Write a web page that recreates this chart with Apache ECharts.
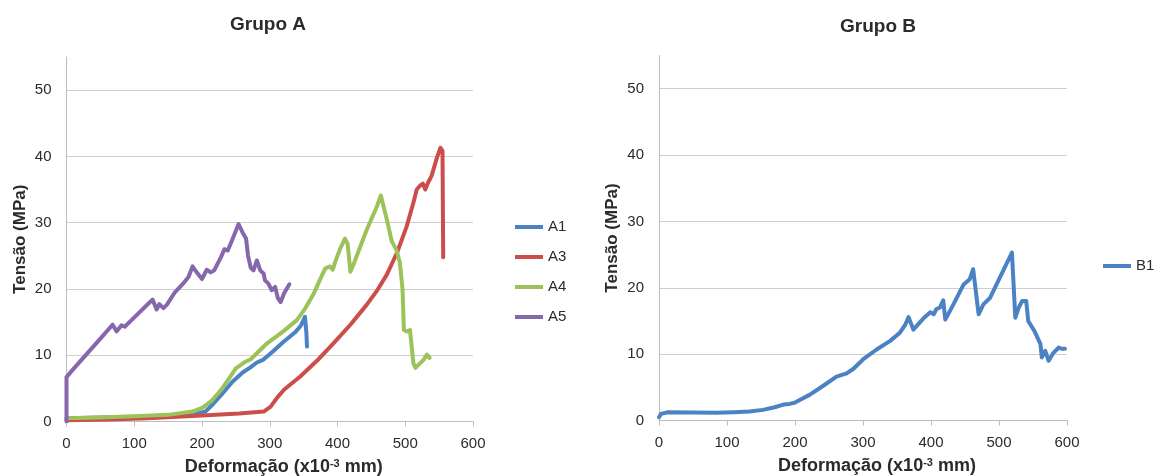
<!DOCTYPE html>
<html>
<head>
<meta charset="utf-8">
<script src="https://cdn.jsdelivr.net/npm/echarts@6/dist/echarts.min.js"></script>
<style>
  html, body { margin: 0; padding: 0; background: #fff; }
  #chart { width: 1157px; height: 476px; }
</style>
</head>
<body>
<div id="chart"></div>
<script>
// Stress–strain curves, [deformation (x10^-3 mm), stress (MPa)]
const serieA1 = [[0,0.5],[50,0.6],[100,0.7],[150,0.9],[190,1.1],[205,1.5],[216,2.6],[230,4.2],[245,6.0],[260,7.4],[272,8.2],[281,8.9],[290,9.3],[296,9.8],[305,10.6],[320,12.0],[338,13.5],[346,14.5],[352,15.8],[354,13.5],[355,11.3]];
const serieA3 = [[0,0.2],[60,0.3],[120,0.5],[200,0.9],[255,1.2],[291,1.5],[301,2.2],[311,3.6],[321,4.8],[345,6.8],[370,9.2],[394,11.8],[419,14.6],[443,17.6],[458,19.7],[473,22.2],[488,25.5],[502,29.4],[512,33.0],[517,35.0],[522,35.6],[526,35.9],[529.5,35.0],[534,36.1],[539,37.1],[547,39.9],[552,41.3],[555,40.8],[556,24.8]];
const serieA4 = [[0,0.5],[50,0.6],[100,0.8],[150,1.0],[186,1.5],[201,2.1],[215,3.2],[230,5.0],[250,8.0],[262,8.9],[272,9.4],[296,11.8],[320,13.6],[340,15.3],[352,17.0],[365,19.3],[375,21.6],[382,23.1],[389,23.4],[393,22.9],[397,24.2],[404,26.1],[411,27.6],[415,26.8],[419,22.6],[424,23.8],[443,28.9],[458,32.4],[464,34.1],[473,30.4],[480,27.2],[487,25.9],[492,24.0],[496,20.0],[498,13.8],[502,13.6],[507,13.8],[512,8.8],[515,8.1],[522,8.8],[527,9.3],[532,10.1],[536,9.6]];
const serieA5 = [[0,0],[0,6.7],[10,7.9],[30,10.2],[50,12.5],[68,14.6],[74,13.6],[81,14.5],[86,14.3],[93,15.0],[105,16.2],[118,17.5],[127,18.4],[133,16.9],[137,17.7],[143,17.1],[148,17.6],[160,19.5],[172,20.8],[180,21.8],[186,23.4],[193,22.4],[200,21.5],[207,22.9],[213,22.5],[218,22.8],[228,24.8],[233,26.0],[238,25.8],[243,27.0],[254,29.8],[260,28.5],[265,27.6],[268,25.0],[272,23.2],[276,22.8],[281,24.3],[286,22.8],[291,22.3],[293,21.3],[298,20.8],[303,19.8],[308,20.3],[312,18.6],[316,18.0],[321,19.3],[329,20.7]];
const serieB1 = [[0,0.5],[3,1.0],[13,1.25],[50,1.2],[84,1.15],[110,1.25],[133,1.35],[153,1.6],[170,2.0],[183,2.4],[192,2.5],[200,2.7],[207,3.1],[222,3.9],[241,5.2],[261,6.6],[276,7.1],[286,7.8],[300,9.2],[320,10.7],[340,12.0],[354,13.2],[362,14.4],[367,15.6],[374,13.7],[389,15.4],[399,16.3],[404,16.0],[408,16.8],[413,17.0],[418,18.1],[421,15.2],[433,17.5],[448,20.5],[457,21.3],[462,22.8],[470,16.0],[477,17.5],[487,18.5],[519,25.3],[524,15.5],[529,17.0],[534,18.0],[540,18.0],[543,15.0],[552,13.5],[561,11.5],[563,9.5],[568,10.5],[573,9.0],[580,10.2],[588,11.0],[592,10.8],[597,10.8]];

const groupTitles = ['Grupo A', 'Grupo B'];
const namesA = ['A1', 'A3', 'A4', 'A5'];
const namesB = ['B1'];
const xTitle = 'Deformação (x10{sup|-3} mm)';
const yTitle = 'Tensão (MPa)';

const FONT = '"Liberation Sans", Arial, Helvetica, sans-serif';
const GRID_GREY = '#cfcfcf';
const AXIS_GREY = '#bdbdbd';
const TEXT = '#2b2b2b';
const colors = { A1: '#4a82c4', A3: '#cc4e4b', A4: '#9cc25a', A5: '#8667ad', B1: '#4a82c4' };

function xAxisFor(gridIndex) {
  return {
    gridIndex, type: 'value', min: 0, max: 600, interval: 100,
    name: xTitle, nameLocation: 'middle', nameGap: 37,
    nameTextStyle: {
      fontFamily: FONT, fontSize: 18, fontWeight: 'bold', color: TEXT,
      padding: [0, 0, 0, 28], lineHeight: 18,
      rich: { sup: { fontFamily: FONT, fontSize: 11, fontWeight: 'bold', color: TEXT, verticalAlign: 'top', lineHeight: 18, padding: [0, 0, 7, 0] } }
    },
    axisLine: { show: true, lineStyle: { color: AXIS_GREY, width: 1 } },
    axisTick: { show: true, inside: false, length: 5, lineStyle: { color: AXIS_GREY } },
    axisLabel: { fontFamily: FONT, fontSize: 15, color: TEXT, margin: 15 },
    splitLine: { show: false }
  };
}

function yAxisFor(gridIndex) {
  return {
    gridIndex, type: 'value', min: 0, max: 55, interval: 10,
    name: yTitle, nameLocation: 'middle', nameGap: 38,
    nameTextStyle: { fontFamily: FONT, fontSize: 17, fontWeight: 'bold', color: TEXT },
    axisLine: { show: true, lineStyle: { color: AXIS_GREY, width: 1 } },
    axisTick: { show: false },
    axisLabel: {
      fontFamily: FONT, fontSize: 15, color: TEXT, margin: 15, showMaxLabel: false,
      formatter: v => (v % 10 === 0 ? String(v) : '')
    },
    splitLine: {
      show: true, showMaxLine: false,
      lineStyle: { color: [GRID_GREY, GRID_GREY, GRID_GREY, GRID_GREY, GRID_GREY, GRID_GREY, 'rgba(0,0,0,0)'], width: 1 }
    }
  };
}

function lineSeries(name, data, idx) {
  return {
    name, type: 'line', data, xAxisIndex: idx, yAxisIndex: idx,
    showSymbol: false, symbol: 'none', smooth: false, animation: false,
    lineStyle: { color: colors[name], width: 4, cap: 'round', join: 'round' },
    itemStyle: { color: colors[name] }
  };
}

function legendFor(names, left, top) {
  return {
    data: names, orient: 'vertical', left, top,
    icon: 'rect', itemWidth: 28, itemHeight: 4, itemGap: 14,
    textStyle: { fontFamily: FONT, fontSize: 15, color: TEXT, lineHeight: 16 },
    selectedMode: false
  };
}

const chart = echarts.init(document.getElementById('chart'), null, { renderer: 'canvas' });
chart.setOption({
  backgroundColor: '#ffffff',
  animation: false,
  title: [
    { text: groupTitles[0], left: 268, top: 15, textAlign: 'center', padding: 0,
      textStyle: { fontFamily: FONT, fontSize: 19, fontWeight: 'bold', color: TEXT } },
    { text: groupTitles[1], left: 878, top: 17, textAlign: 'center', padding: 0,
      textStyle: { fontFamily: FONT, fontSize: 19, fontWeight: 'bold', color: TEXT } }
  ],
  legend: [legendFor(namesA, 510, 214), legendFor(namesB, 1098, 253)],
  grid: [
    { left: 66.5, top: 57, width: 406.5, height: 364.5, containLabel: false, outerBoundsMode: 'none' },
    { left: 659, top: 55.5, width: 408, height: 365, containLabel: false, outerBoundsMode: 'none' }
  ],
  xAxis: [xAxisFor(0), xAxisFor(1)],
  yAxis: [yAxisFor(0), yAxisFor(1)],
  series: [
    lineSeries('A1', serieA1, 0),
    lineSeries('A3', serieA3, 0),
    lineSeries('A4', serieA4, 0),
    lineSeries('A5', serieA5, 0),
    lineSeries('B1', serieB1, 1)
  ]
});
</script>
</body>
</html>
